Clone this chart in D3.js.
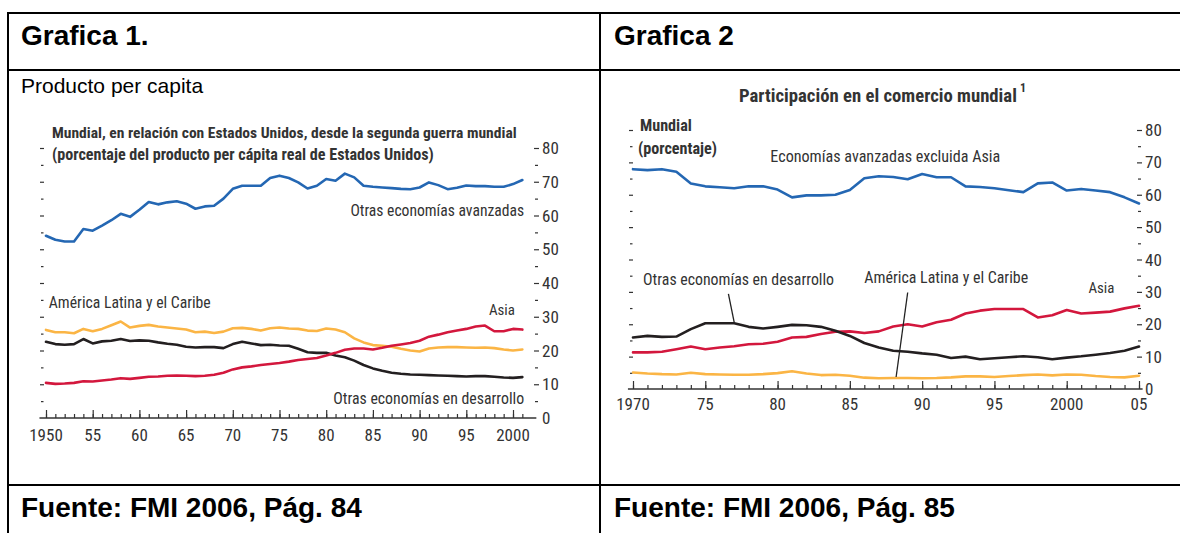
<!DOCTYPE html>
<html><head><meta charset="utf-8">
<script src="https://cdn.jsdelivr.net/npm/d3@7"></script>
<style>body{margin:0;background:#fff}svg{display:block}</style>
</head><body>
<svg id="c" width="1180" height="533"></svg>
<script>
// ---------- DATA ----------
// Gráfica 1: Producto per cápita (% del de EE.UU.), 1950-2001
const years1 = d3.range(1950, 2002);
const avanzadas1 = [54.0,52.8,52.3,52.3,56.0,55.5,57.0,58.6,60.5,59.6,
  61.7,64.0,63.3,63.9,64.2,63.5,62.0,62.7,62.9,65.0,
  67.9,68.8,68.8,68.8,71.1,71.8,71.1,69.8,68.0,68.8,
  70.8,70.3,72.4,71.3,68.8,68.5,68.3,68.1,67.9,67.8,
  68.3,69.8,69.0,67.8,68.2,68.9,68.7,68.7,68.5,68.5,
  69.3,70.5];
const latina1 = [26.1,25.4,25.4,25.1,26.4,25.7,26.4,27.5,28.6,26.8,
  27.3,27.6,27.1,26.8,26.5,26.2,25.4,25.6,25.2,25.6,
  26.6,26.7,26.4,25.9,26.6,26.8,26.5,26.4,25.9,25.8,
  26.5,26.2,25.4,23.6,22.4,21.6,21.4,21.1,20.5,20.0,
  19.7,20.6,20.9,21.0,21.0,20.9,20.8,20.9,20.7,20.3,
  20.0,20.3];
const desarrollo1 = [22.6,21.9,21.7,21.9,23.4,22.1,22.7,22.9,23.4,22.8,
  23.0,22.9,22.4,22.0,21.7,21.1,20.9,21.0,21.0,20.7,
  21.9,22.6,22.1,21.6,21.7,21.5,21.4,20.5,19.5,19.3,
  19.3,18.5,18.0,17.0,15.7,14.7,14.0,13.4,13.1,12.9,
  12.8,12.7,12.6,12.5,12.4,12.3,12.4,12.4,12.2,12.0,
  11.9,12.1];
const asia1 = [10.4,10.1,10.2,10.4,10.9,10.8,11.1,11.4,11.8,11.6,
  11.9,12.2,12.3,12.5,12.6,12.5,12.4,12.5,12.8,13.4,
  14.4,15.0,15.3,15.7,16.0,16.3,16.7,17.2,17.5,17.8,
  18.5,19.3,20.2,20.6,20.6,20.3,20.8,21.4,21.8,22.2,
  22.9,24.1,24.7,25.4,25.9,26.4,27.1,27.4,25.7,25.7,
  26.4,26.2];
const xMajor1 = [1950,1955,1960,1965,1970,1975,1980,1985,1990,1995,2000];
const xLabels1 = ["1950","55","60","65","70","75","80","85","90","95","2000"];

// Gráfica 2: Participación en el comercio mundial (%), 1970-2005
const years2 = d3.range(1970, 2006);
const avanzadas2 = [67.9,67.6,67.9,67.1,63.5,62.6,62.3,62.0,62.6,62.6,
  61.6,59.2,59.8,59.8,60.0,61.5,65.1,65.7,65.5,64.8,
  66.4,65.4,65.4,62.6,62.4,62.0,61.4,60.8,63.5,63.8,
  61.3,61.8,61.3,60.8,59.2,57.3];
const desarrollo2 = [15.9,16.4,16.1,16.2,18.5,20.3,20.3,20.3,19.2,18.7,
  19.2,19.8,19.7,19.2,18.0,16.4,14.2,12.8,11.8,11.5,
  11.0,10.6,9.6,10.0,9.2,9.5,9.8,10.1,9.8,9.2,
  9.7,10.1,10.6,11.1,11.8,13.1];
const asia2 = [11.3,11.3,11.5,12.3,13.1,12.3,12.8,13.2,13.8,14.0,
  14.6,15.9,16.1,17.0,17.7,17.8,17.3,17.8,19.3,20.0,
  19.3,20.6,21.4,23.3,24.2,24.7,24.7,24.7,22.1,22.8,
  24.4,23.3,23.6,23.9,24.9,25.7];
const latina2 = [5.1,4.8,4.6,4.5,5.0,4.6,4.5,4.4,4.4,4.6,
  4.9,5.5,4.8,4.3,4.4,4.1,3.5,3.3,3.4,3.4,
  3.3,3.4,3.6,3.9,3.9,3.7,4.0,4.3,4.5,4.2,
  4.5,4.4,4.0,3.7,3.6,4.1];
const xMajor2 = [1970,1975,1980,1985,1990,1995,2000,2005];
const xLabels2 = ["1970","75","80","85","90","95","2000","05"];

const yMajor = [10,20,30,40,50,60,70,80];
const yMinor = [5,15,25,35,45,55,65,75];
const yLabels = ["0","10","20","30","40","50","60","70","80"];

// ---------- STYLE ----------
const HFONT = "'Liberation Sans', Arial, Helvetica, sans-serif";
const CFONT = "'Roboto Condensed', 'DejaVu Sans Condensed', 'Liberation Sans', sans-serif";
const INK = "#333";
const COL = {blue:"#2467b3", red:"#d3173d", black:"#231f20", orange:"#fbb545"};

const svg = d3.select("#c");
svg.append("rect").attr("width",1180).attr("height",533).attr("fill","#fff");

// condensed text; if width given, the font size is scaled so the text has that width
function ctext(g, str, x, y, o) {
  o = o || {};
  const t = g.append("text").attr("x", x).attr("y", y)
    .attr("font-family", CFONT).attr("font-size", o.size || 16)
    .attr("font-weight", o.bold ? "bold" : "normal")
    .attr("fill", o.fill || INK).text(str);
  if (o.width) {
    const w0 = t.node().getComputedTextLength();
    t.attr("font-size", (o.size || 16) * o.width / w0);
  }
  t.attr("text-anchor", o.anchor || "start");
  return t;
}

// ---------- TABLE FRAME ----------
const fr = svg.append("g").attr("stroke", "#000").attr("stroke-width", 2).attr("fill","none");
[[7,13,1180,13],[7,70,1180,70],[7,485,1180,485],[8,12,8,533],[600,12,600,533]]
  .forEach(d => fr.append("line").attr("x1",d[0]).attr("y1",d[1]).attr("x2",d[2]).attr("y2",d[3]));

function head(str, x, y, size, bold) {
  svg.append("text").attr("x", x).attr("y", y).attr("font-family", HFONT)
    .attr("font-size", size).attr("font-weight", bold ? "bold" : "normal")
    .attr("fill", "#000").text(str);
}
head("Grafica 1.", 21, 45, 28, true);
head("Grafica 2", 614, 45, 28, true);
head("Producto per capita", 21, 93, 21, false);
head("Fuente: FMI 2006, Pág. 84", 21, 517, 28, true);
head("Fuente: FMI 2006, Pág. 85", 614, 517, 28, true);

// ---------- GENERIC CHART ----------
function styleTicks(s) {
  s.select(".domain").remove();
  s.selectAll("line").attr("stroke", INK).attr("stroke-width", 1.2);
}
function chart(cfg) {
  const g = svg.append("g");
  const x = cfg.x, y = cfg.y;
  // x axis
  const ax = g.append("g").attr("transform", `translate(0,${y(0)})`);
  ax.append("line").attr("x1", x(cfg.axStart)).attr("x2", x(cfg.axEnd))
    .attr("stroke", INK).attr("stroke-width", 1.3);
  ax.append("g").call(d3.axisBottom(x).tickValues(cfg.years).tickSize(-4).tickFormat("")).call(styleTicks);
  ax.append("g").call(d3.axisBottom(x).tickValues(cfg.xMajor).tickSize(-8).tickFormat("")).call(styleTicks);
  cfg.xMajor.forEach((d, i) => ctext(g, cfg.xLabels[i], x(d), y(0) + cfg.xLabelDy, {size: 17, anchor: "middle"}));

  // right y axis
  const ry = g.append("g").attr("transform", `translate(${cfg.rightX},0)`);
  ry.append("g").call(d3.axisRight(y).tickValues(yMajor).tickSize(5).tickFormat("")).call(styleTicks);
  ry.append("g").attr("transform","translate(1,0)").call(d3.axisRight(y).tickValues(yMinor).tickSize(3).tickFormat("")).call(styleTicks);
  [0].concat(yMajor).forEach((v, i) => ctext(g, yLabels[i], cfg.rightX + 8, y(v) + 6, {size: 17}));

  // left dashes
  const ly = g.append("g").attr("transform", `translate(${cfg.leftX},0)`);
  ly.append("g").call(d3.axisRight(y).tickValues(yMajor).tickSize(4).tickFormat("")).call(styleTicks);
  ly.append("g").attr("transform","translate(1,0)").call(d3.axisRight(y).tickValues(yMinor).tickSize(2.5).tickFormat("")).call(styleTicks);

  // series
  const line = d3.line().x((d, i) => x(cfg.years[i])).y(d => y(d));
  cfg.series.forEach(s => g.append("path").datum(s.values).attr("d", line)
    .attr("fill", "none").attr("stroke", s.color).attr("stroke-width", 2.6)
    .attr("stroke-linejoin", "round").attr("stroke-linecap", "round"));

  // labels + leader lines
  cfg.labels.forEach(l => ctext(g, l.text, x(l.yr), y(l.v), {size: 16, width: l.w, anchor: l.anchor}));
  (cfg.leaders || []).forEach(l => g.append("line")
    .attr("x1", x(l[0])).attr("y1", y(l[1])).attr("x2", x(l[2])).attr("y2", y(l[3]))
    .attr("stroke", "#222").attr("stroke-width", 1.3));
  return g;
}

// ---------- CHART 1 ----------
const x1 = d3.scaleLinear().domain([1950, 2000]).range([46, 513]);
const y1 = d3.scaleLinear().domain([0, 80]).range([418, 148]);
const g1 = chart({
  x: x1, y: y1, years: years1, xMajor: xMajor1, xLabels: xLabels1,
  axStart: 1949.3, axEnd: 2002.5, rightX: 534, leftX: 40, xLabelDy: 23,
  series: [
    {values: latina1, color: COL.orange},
    {values: desarrollo1, color: COL.black},
    {values: asia1, color: COL.red},
    {values: avanzadas1, color: COL.blue}
  ],
  labels: [
    {text: "Otras economías avanzadas", yr: 2001.2, v: 59.9, w: 174, anchor: "end"},
    {text: "América Latina y el Caribe", yr: 1950.3, v: 32.7, w: 162},
    {text: "Asia", yr: 2000.2, v: 30.6, w: 26, anchor: "end"},
    {text: "Otras economías en desarrollo", yr: 2001.2, v: 4.2, w: 191, anchor: "end"}
  ]
});
ctext(g1, "Mundial, en relación con Estados Unidos, desde la segunda guerra mundial", 52, 138, {bold: true, width: 465});
ctext(g1, "(porcentaje del producto per cápita real de Estados Unidos)", 52, 160, {bold: true, width: 382});

// ---------- CHART 2 ----------
const x2 = d3.scaleLinear().domain([1970, 2005]).range([633, 1139]);
const y2 = d3.scaleLinear().domain([0, 80]).range([389, 130]);
const g2 = chart({
  x: x2, y: y2, years: years2, xMajor: xMajor2, xLabels: xLabels2,
  axStart: 1969.65, axEnd: 2005.25, rightX: 1137, leftX: 629, xLabelDy: 21,
  series: [
    {values: latina2, color: COL.orange},
    {values: asia2, color: COL.red},
    {values: desarrollo2, color: COL.black},
    {values: avanzadas2, color: COL.blue}
  ],
  labels: [
    {text: "Economías avanzadas excluida Asia", yr: 1979.5, v: 70.0, w: 230},
    {text: "Otras economías en desarrollo", yr: 1970.7, v: 32.2, w: 191},
    {text: "América Latina y el Caribe", yr: 1986.0, v: 32.8, w: 164},
    {text: "Asia", yr: 2003.3, v: 29.5, w: 26, anchor: "end"}
  ],
  leaders: [[1976.6, 29.4, 1977.0, 20.6], [1989.0, 29.8, 1988.2, 3.7]]
});
ctext(g2, "Participación en el comercio mundial", 739, 102, {bold: true, width: 278});
ctext(g2, "1", 1020, 92, {size: 12, bold: true});
const pct = ctext(g2, "(porcentaje)", 638, 154, {bold: true, width: 79});
ctext(g2, "Mundial", 640, 131, {bold: true, size: +pct.attr("font-size")});
</script>
</body></html>
